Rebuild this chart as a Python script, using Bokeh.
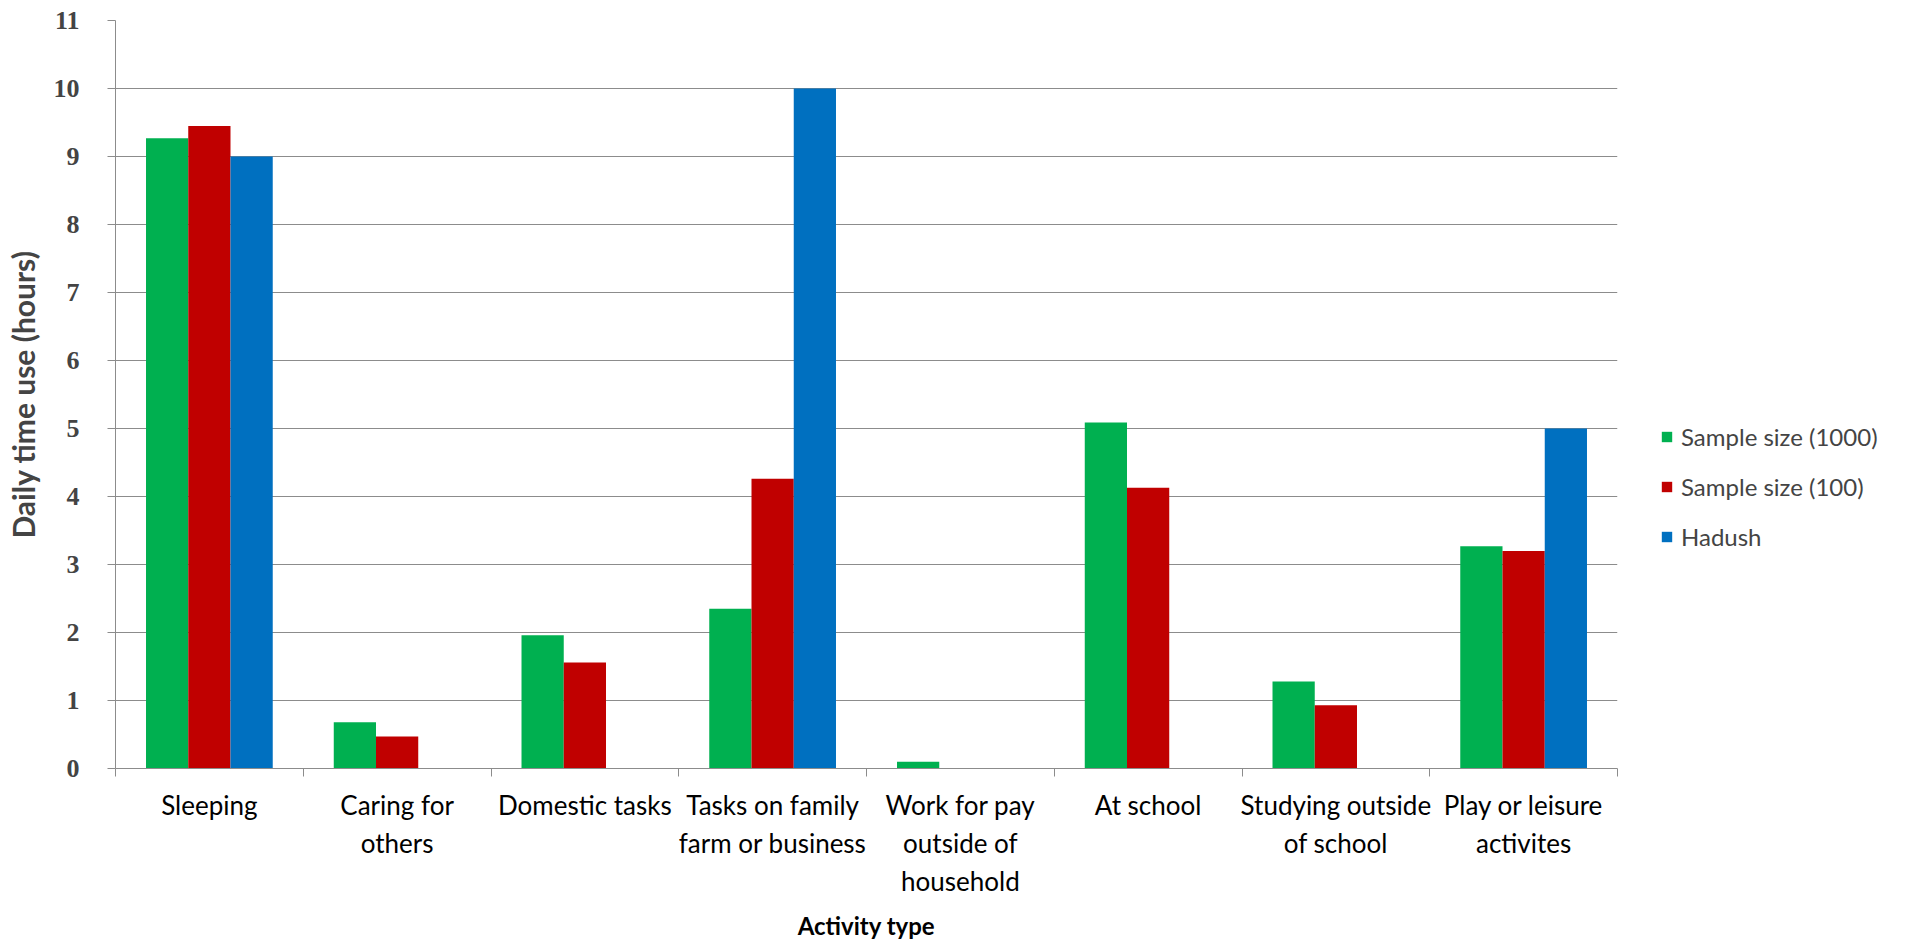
from bokeh.plotting import figure
from bokeh.models import (Range1d, LinearAxis, FixedTicker, Legend, LegendItem, ColumnDataSource, Title)
from bokeh.layouts import row
from bokeh.transform import dodge
from bokeh.embed import file_html
from bokeh.resources import INLINE

categories = ["Sleeping", "Caring for\nothers", "Domestic tasks", "Tasks on family\nfarm or business",
              "Work for pay\noutside of\nhousehold", "At school", "Studying outside\nof school",
              "Play or leisure\nactivites"]
series_names = ["Sample size (1000)", "Sample size (100)", "Hadush"]
sample_1000 = [9.27, 0.68, 1.96, 2.35, 0.10, 5.09, 1.28, 3.27]
sample_100 = [9.45, 0.47, 1.56, 4.26, 0.0, 4.13, 0.93, 3.20]
hadush = [9.0, 0.0, 0.0, 10.0, 0.0, 0.0, 0.0, 5.0]
y_ticks = list(range(0, 12))

colors = ["#00B050", "#C00000", "#0070C0"]

n = len(categories)
centers = [i + 0.5 for i in range(n)]          # category slot centres on a 0..n axis
src = ColumnDataSource(dict(x=centers, s1000=sample_1000, s100=sample_100, had=hadush))

p = figure(width=1640, height=950, x_range=Range1d(0, n),
           y_range=Range1d(0, 11), output_backend="svg", toolbar_location=None,
           x_axis_location=None, min_border_left=115, min_border_right=23,
           min_border_top=20, min_border_bottom=182, outline_line_color=None)

bw = 0.225
for off, col, c in zip([-bw, 0, bw], ["s1000", "s100", "had"], colors):
    p.vbar(x=dodge("x", off), top=col, width=bw, source=src, fill_color=c, line_color=None)

# x axis: labels at category centres, tick marks at category boundaries
xax = LinearAxis(ticker=FixedTicker(ticks=centers, minor_ticks=list(range(n + 1))))
xax.major_label_overrides = {c: lab for c, lab in zip(centers, categories)}
xax.major_tick_line_color = None
xax.minor_tick_in = 0
xax.minor_tick_out = 8
xax.minor_tick_line_color = "#8C8C8C"
xax.axis_line_color = "#8C8C8C"
xax.major_label_text_font = "Lato"
xax.major_label_text_font_size = "26px"
xax.major_label_text_color = "#000000"
xax.major_label_text_line_height = 1.19
xax.major_label_standoff = 12
p.add_layout(xax, "below")

xtitle = Title(text="Activity type", align="center", standoff=18,
               text_font="Lato", text_font_style="bold", text_font_size="24px", text_color="#000000")
p.add_layout(xtitle, "below")

yax = p.yaxis[0]
yax.ticker = FixedTicker(ticks=y_ticks)
yax.minor_tick_line_color = None
yax.major_tick_in = 0
yax.major_tick_out = 8
yax.major_tick_line_color = "#8C8C8C"
yax.axis_line_color = "#8C8C8C"
yax.major_label_text_font = "Liberation Serif"
yax.major_label_text_font_style = "bold"
yax.major_label_text_font_size = "26px"
yax.major_label_standoff = 28
yax.axis_label = "Daily time use (hours)"
yax.axis_label_text_font = "Lato"
yax.axis_label_text_font_style = "bold"
yax.axis_label_text_font_size = "30px"
yax.axis_label_standoff = 10

p.xgrid.grid_line_color = None
p.ygrid.grid_line_color = "#8C8C8C"
p.ygrid.ticker = FixedTicker(ticks=y_ticks)

# legend panel to the right of the plot (legend-only swatch renderers, drawn off-range)
q = figure(width=276, height=950, x_range=Range1d(0, 1), y_range=Range1d(0, 1),
           output_backend="svg", toolbar_location=None, x_axis_location=None, y_axis_location=None,
           min_border=0, outline_line_color=None)
q.grid.visible = False
legend_renderers = [q.vbar(x=[-5], top=[0], width=0.1, fill_color=c, line_color=None) for c in colors]
legend = Legend(items=[LegendItem(label=nm, renderers=[r]) for nm, r in zip(series_names, legend_renderers)],
                location=(20, 217))
legend.border_line_color = None
legend.background_fill_alpha = 0
legend.padding = 0
legend.margin = 0
legend.glyph_width = 13
legend.glyph_height = 13
legend.label_text_font = "Lato"
legend.label_text_font_size = "24px"
legend.label_standoff = 8
legend.spacing = 21
q.add_layout(legend, "center")

layout = row(p, q, spacing=0)
open("out.html", "w").write(file_html(layout, INLINE))
